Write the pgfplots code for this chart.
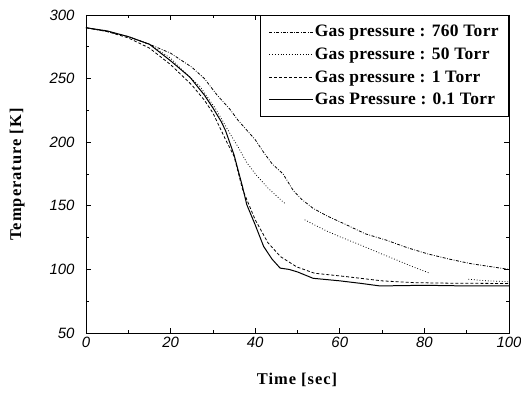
\documentclass[border=0pt]{standalone}
\usepackage{pgfplots}
\pgfplotsset{compat=1.18}
\usepackage{fontspec}
\setmainfont{Liberation Serif}
\setsansfont{Liberation Sans}
\newfontfamily\legfont[LetterSpace=2]{Liberation Serif}
\newfontfamily\labfont[LetterSpace=6]{Liberation Serif}
\begin{document}
\begin{tikzpicture}
\useasboundingbox (-86bp,-61bp) rectangle (435bp,333bp);
\begin{axis}[
  at={(0,0)}, anchor=south west,
  scale only axis, width=423bp, height=318bp,
  xmin=0, xmax=100, ymin=50, ymax=300,
  xtick={0,20,...,100}, ytick={50,100,...,300},
  minor x tick num=1, minor y tick num=1,
  tick align=inside, major tick length=5bp, minor tick length=3bp,
  axis line style={line width=1pt}, tick style={line width=0.8pt, black},
  /pgf/number format/assume math mode=true,
  tick label style={font=\fontsize{15}{17}\sffamily\itshape},
  xticklabel style={yshift=-1bp},
  yticklabel style={xshift=-8bp},
  xlabel={\textbf{Time [sec]}}, ylabel={\textbf{Temperature [K]}},
  label style={font=\fontsize{16.5}{18}\labfont},
  xlabel style={at={(axis description cs:0.5,-0.148)}, anchor=center},
  ylabel style={at={(axis description cs:-0.163,0.5)}, anchor=center, rotate=0},
  unbounded coords=jump,
  legend style={at={(1,1)}, anchor=north east, draw=black, line width=0.8pt,
    font=\fontsize{17.5}{19}\legfont\bfseries, inner xsep=9bp, inner ysep=8bp, row sep=5.5bp, cells={anchor=west},
    nodes={inner xsep=1bp}},
  legend cell align=left,
  legend image code/.code={\draw[#1, line width=0.8pt] (0bp,0bp) -- (44bp,0bp);},
]
\addplot[black, line width=0.8pt, dash pattern=on 3pt off 1.5pt on 0.8pt off 1.5pt] coordinates {
(0,290)(5,287)(10,283)(15,277)(20,270)(25,259)(28,250)(31,237)(34,226)(36,217)(40,202)(42,192)(44,183)(46.6,175)(49,162)(51,155)(53.7,148)(57,142)(61.6,135)(66,128)(71,123)(76,117)(81,112)(86,108)(91,104.5)(95,102.5)(100,100)};
\addlegendentry{Gas pressure : 760 Torr}
\addplot[black, line width=0.8pt, dash pattern=on 0.8pt off 2pt] coordinates {
(0,290)(5,287)(10,283)(15,277)(20,266)(23,256)(26.9,244)(30.7,226)(34,207)(36,196)(38,184)(40.3,174)(43,164)(46.6,153)(47,152)(49,nan)(51.7,139)(54,135)(57,130)(60,125.7)(65,119)(69.5,112.7)(73,108)(77.3,102)(81.3,97)(85,nan)(90.4,92.2)(95,91)(100,90.3)};
\addlegendentry{Gas pressure : 50 Torr}
\addplot[black, line width=0.8pt, dash pattern=on 3pt off 2pt] coordinates {
(0,290)(5,287)(10,282)(15,274)(20,261)(25,245)(28,233)(30,223)(33,202)(35,189)(37,163)(40,139)(43,121)(46,110)(49.8,102)(54,97)(61.6,94.3)(70,91)(77.4,89.6)(85,89.2)(100,88.9)};
\addlegendentry{Gas pressure : 1 Torr}
\addplot[black, line width=1pt] coordinates {
(0,290)(5,287.5)(10,283)(15,277)(20,264)(24.6,251)(28,237)(30,227)(32,216)(33,209)(35,190)(37,165)(38,151)(40,135)(42,118)(44,108)(45.9,101)(48,100)(50,98)(53.7,93)(60,91)(65,89)(69.5,87)(80,87.5)(90,87)(100,87)};
\addlegendentry{Gas Pressure : 0.1 Torr}
\end{axis}
\end{tikzpicture}
\end{document}
